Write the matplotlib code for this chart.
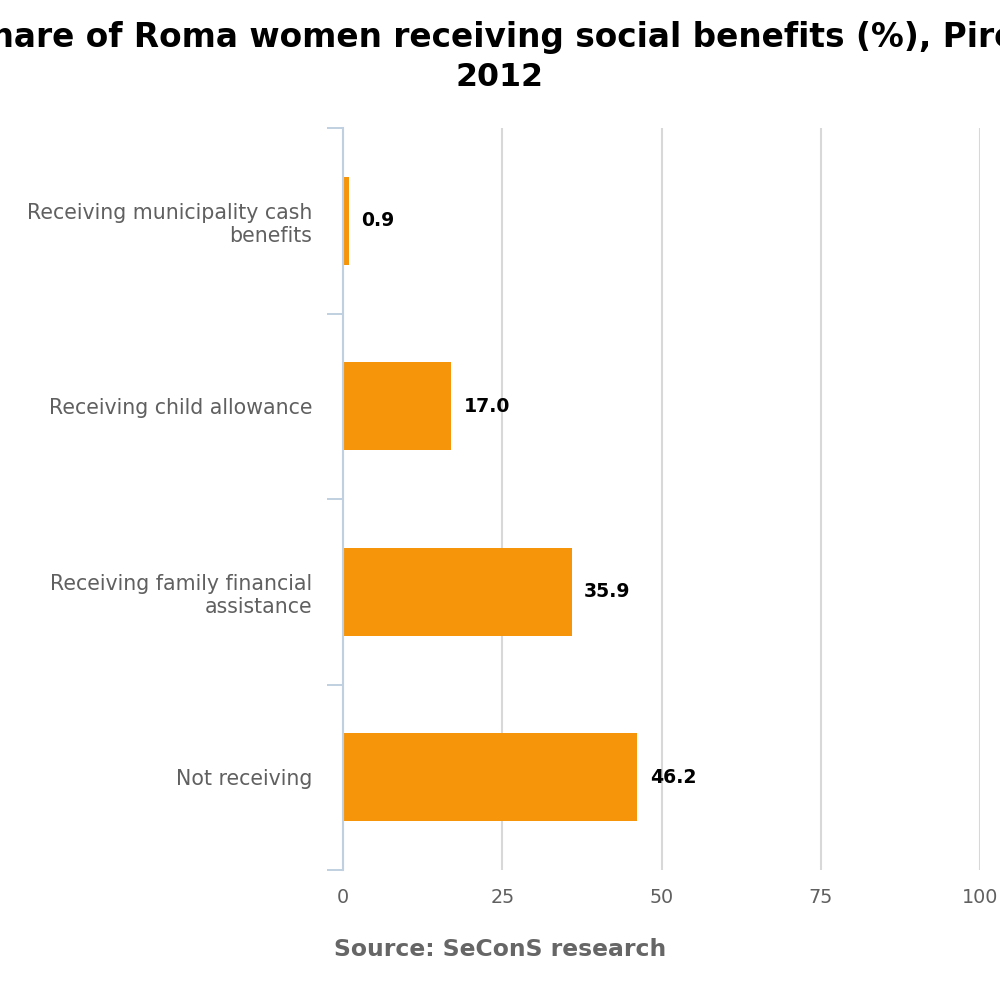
import matplotlib
matplotlib.use("Agg")
import matplotlib.pyplot as plt
from matplotlib.font_manager import FontProperties
from matplotlib.ticker import FixedLocator

categories = ["Receiving municipality cash\nbenefits", "Receiving child allowance",
              "Receiving family financial\nassistance", "Not receiving"]
values = [0.9, 17.0, 35.9, 46.2]
xticks = [0, 25, 50, 75, 100]
title_line1 = "Share of Roma women receiving social benefits (%), Pirot,"
title_line2 = "2012"
source = "Source: SeConS research"


def fp(size, bold=False):
    return FontProperties(family="DejaVu Sans", weight="bold" if bold else "normal", size=size)


fig = plt.figure(figsize=(10, 10), dpi=100)
ax = fig.add_axes([0.343, 0.13, 0.637, 0.742])

ypos = list(range(len(categories)))
ax.barh(ypos, values, height=0.475, color="#F7950A", zorder=3)

ax.set_xlim(0, 100)
ax.set_ylim(len(categories) - 0.5, -0.5)

for s in ["top", "right", "bottom"]:
    ax.spines[s].set_visible(False)
ax.spines["left"].set_color("#C0D0E0")
ax.spines["left"].set_linewidth(1.5)
ax.spines["left"].set_zorder(4)

ax.set_xticks(xticks)
ax.set_xticklabels([str(t) for t in xticks], fontproperties=fp(13.8), color="#606060")
ax.tick_params(axis="x", length=0, pad=13)
ax.xaxis.grid(True, color="#D8D8D8", linewidth=1.5, zorder=0)
ax.set_axisbelow(True)

ax.set_yticks(ypos)
ax.set_yticklabels(categories, fontproperties=fp(14.8), color="#606060")
for lbl in ax.get_yticklabels():
    lbl.set_multialignment("right")
ax.tick_params(axis="y", which="major", length=0, pad=22)
ax.yaxis.set_minor_locator(FixedLocator([i - 0.5 for i in range(len(categories) + 1)]))
ax.tick_params(axis="y", which="minor", length=11.5, width=1.4, color="#C0D0E0")

for y, v in zip(ypos, values):
    ax.annotate(f"{v:.1f}", xy=(v, y), xytext=(9, 0), textcoords="offset points",
                ha="left", va="center", fontproperties=fp(13.6, bold=True),
                color="#000000", zorder=5)

fig.text(0.506, 1 - 38 / 1000, title_line1, ha="center", va="center",
         fontproperties=fp(23.6, bold=True), color="#000000")
fig.text(0.5, 1 - 78 / 1000, title_line2, ha="center", va="center",
         fontproperties=fp(22.8, bold=True), color="#000000")
fig.text(0.5, 1 - 950 / 1000, source, ha="center", va="center",
         fontproperties=fp(16.9, bold=True), color="#666666")

fig.savefig("out.png", dpi=100)
